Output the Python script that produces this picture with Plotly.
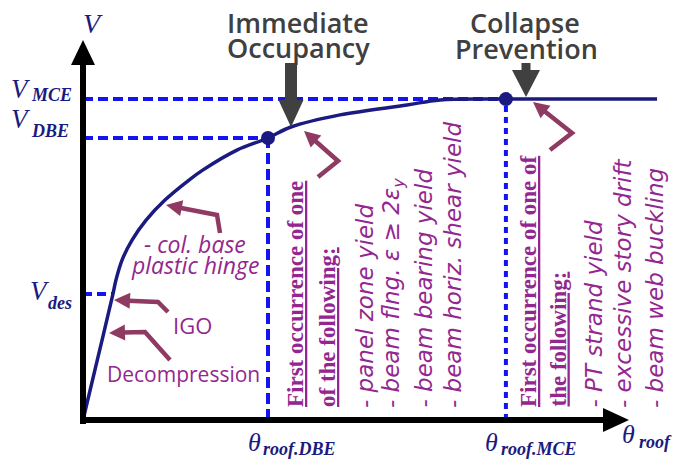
import math
import plotly.graph_objects as go

W, H = 676, 461

# ---------------- data (model units: theta_roof, V) ----------------
theta_curve = [0.0, 0.081, 0.162, 0.178, 0.211, 0.265, 0.341, 0.443, 0.573, 0.649,
               0.832, 1.0, 1.124, 1.389, 1.751, 1.930, 2.286, 3.103]
V_curve = [0.0, 0.223, 0.447, 0.496, 0.567, 0.638, 0.709, 0.780, 0.851, 0.887,
           0.957, 1.0, 1.039, 1.082, 1.117, 1.135, 1.138, 1.138]
theta_DBE, V_DBE = 1.0, 1.0
theta_MCE, V_MCE = 2.286, 1.138
theta_des, V_des = 0.162, 0.447

io_title = ["Immediate", "Occupancy"]
cp_title = ["Collapse", "Prevention"]
dbe_header = ["<u>First occurrence of one</u>", "<u>of the following:</u>"]
dbe_items = ["- panel zone yield", "- beam flng. ε ≥ 2ε<sub>y</sub>",
             "- beam bearing yield", "- beam horiz. shear yield"]
mce_header = ["<u>First occurrence of one of</u>", "<u>the following:</u>"]
mce_items = ["- PT strand yield", "- excessive story drift", "- beam web buckling"]
point_labels = ["- col. base", "plastic hinge", "IGO", "Decompression"]

# ---------------- pixel <-> model helpers ----------------
OX, OY, SX, SY = 83, 420, 185, 282
def mx(px):
    return (px - OX) / SX
def my(py):
    return (OY - py) / SY

NAVY = "#1a1a80"
BLUE = "#1414f0"
MAROON = "#8f3a62"
PURPLE = "#93278f"
GRAY = "#404040"
SERIF = "Liberation Serif"
SANS = "Open Sans"
LIST = "DejaVu Sans"

fig = go.Figure()

def dashed(xs, ys, dash):
    fig.add_trace(go.Scatter(x=xs, y=ys, mode="lines",
                             line=dict(color=BLUE, width=4, dash=dash),
                             hoverinfo="skip", showlegend=False))

dashed([0, theta_MCE], [V_MCE, V_MCE], "10px,5px")
dashed([0, theta_DBE], [V_DBE, V_DBE], "10px,5px")
dashed([0, theta_des], [V_des, V_des], "9px,5px")
dashed([theta_DBE, theta_DBE], [0, V_DBE], "11px,5px")
dashed([theta_MCE, theta_MCE], [0, V_MCE], "6px,5px")

fig.add_trace(go.Scatter(x=theta_curve, y=V_curve, mode="lines",
                         line=dict(color=NAVY, width=3.5, shape="spline", smoothing=1.0),
                         hoverinfo="skip", showlegend=False))
fig.add_trace(go.Scatter(x=[theta_DBE, theta_MCE], y=[V_DBE, V_MCE], mode="markers",
                         marker=dict(color=NAVY, size=14),
                         hoverinfo="skip", showlegend=False))

shapes = []
def poly(pts, fill):
    d = "M " + " L ".join(f"{mx(px):.5f},{my(py):.5f}" for px, py in pts) + " Z"
    shapes.append(dict(type="path", path=d, xref="x", yref="y", fillcolor=fill,
                       line=dict(color=fill, width=0), layer="above"))
def pline(pts, color, lw):
    d = "M " + " L ".join(f"{mx(px):.5f},{my(py):.5f}" for px, py in pts)
    shapes.append(dict(type="path", path=d, xref="x", yref="y",
                       line=dict(color=color, width=lw), layer="above"))

# axes with arrowheads
pline([(83, 424), (83, 60)], "black", 6)
poly([(83, 40), (71, 65), (95, 65)], "black")
pline([(80, 420), (606, 420)], "black", 6)
poly([(629, 420), (603, 408), (603, 432)], "black")

# gray block arrows
def block_arrow(cx, top, tip, sw, hw, hl):
    hb = tip - hl
    poly([(cx - sw / 2, top), (cx + sw / 2, top), (cx + sw / 2, hb), (cx + hw / 2, hb),
          (cx, tip), (cx - hw / 2, hb), (cx - sw / 2, hb)], GRAY)
block_arrow(291, 63, 127, 12, 25, 27)
block_arrow(526, 63, 97, 9, 28, 27)

# maroon bent arrows
def bent_arrow(pts, hl=16, hw=16, lw=4.5):
    (tx, ty), (nx, ny) = pts[0], pts[1]
    L = math.hypot(tx - nx, ty - ny)
    ux, uy = (tx - nx) / L, (ty - ny) / L
    bx, by = tx - ux * hl, ty - uy * hl
    pline([(bx + ux * 2, by + uy * 2)] + pts[1:], MAROON, lw)
    px_, py_ = -uy, ux
    poly([(tx, ty), (bx + px_ * hw / 2, by + py_ * hw / 2),
          (bx - px_ * hw / 2, by - py_ * hw / 2)], MAROON)

bent_arrow([(304, 131), (338, 161), (318, 177)])
bent_arrow([(533, 102), (572, 133), (550, 150)])
bent_arrow([(166, 205), (217, 215), (220, 233)])
bent_arrow([(114, 300), (158, 302), (168, 312)])
bent_arrow([(109, 333), (145, 332), (170, 360)])

anns = []
def ann(text, px, py, size, color, family, xa="center", ya="middle", angle=0, weight=None):
    f = dict(size=size, color=color, family=family)
    if weight:
        f["weight"] = weight
    anns.append(dict(text=text, x=mx(px), y=my(py), xref="x", yref="y", showarrow=False,
                     xanchor=xa, yanchor=ya, textangle=angle, font=f, borderpad=0))

# titles
ann(io_title[0], 298, 22, 27, GRAY, SANS, weight=600)
ann(io_title[1], 298, 47, 27, GRAY, SANS, weight=600)
ann(cp_title[0], 525, 22, 27, GRAY, SANS, weight=600)
ann(cp_title[1], 526, 48, 27, GRAY, SANS, weight=600)

# axis symbols
ann("<i>V</i>", 93, 23, 28, NAVY, SERIF)
ann("<i>V</i>", 21, 89, 27, NAVY, SERIF)
ann("<b><i>MCE</i></b>", 30, 95, 18, NAVY, SERIF, xa="left")
ann("<i>V</i>", 21, 119, 27, NAVY, SERIF)
ann("<b><i>DBE</i></b>", 30, 131, 18, NAVY, SERIF, xa="left")
ann("<i>V</i>", 40, 291, 27, NAVY, SERIF)
ann("<b><i>des</i></b>", 47, 303, 18, NAVY, SERIF, xa="left")
ann("<i>θ</i>", OX + theta_DBE * SX - 14, 442, 26, NAVY, SERIF)
ann("<b><i>roof.DBE</i></b>", OX + theta_DBE * SX - 6, 449, 18, NAVY, SERIF, xa="left")
ann("<i>θ</i>", OX + theta_MCE * SX - 14, 442, 26, NAVY, SERIF)
ann("<b><i>roof.MCE</i></b>", OX + theta_MCE * SX - 6, 449, 18, NAVY, SERIF, xa="left")
ann("<i>θ</i>", 628, 434, 26, NAVY, SERIF)
ann("<b><i>roof</i></b>", 638, 442, 18, NAVY, SERIF, xa="left")

# curve point labels
ann("<i>" + point_labels[0] + "</i>", 195, 244, 23, PURPLE, SANS)
ann("<i>" + point_labels[1] + "</i>", 195, 265, 23, PURPLE, SANS)
ann(point_labels[2], 192, 325, 22, PURPLE, SANS)
ann(point_labels[3], 183, 374, 21, PURPLE, SANS)

# rotated lists
for t, cx in zip(dbe_header, [295, 327]):
    ann("<b>" + t + "</b>", cx, 408, 23, PURPLE, SERIF, ya="bottom", angle=-90)
for t, cx in zip(dbe_items, [365, 393, 423, 453]):
    ann("<i>" + t + "</i>", cx, 409, 23, PURPLE, LIST, ya="bottom", angle=-90)
for t, cx in zip(mce_header, [528, 558]):
    ann("<b>" + t + "</b>", cx, 408, 23, PURPLE, SERIF, ya="bottom", angle=-90)
for t, cx in zip(mce_items, [593, 623, 655]):
    ann("<i>" + t + "</i>", cx, 409, 23, PURPLE, LIST, ya="bottom", angle=-90)

fig.update_layout(
    width=W, height=H, margin=dict(l=0, r=0, t=0, b=0),
    paper_bgcolor="white", plot_bgcolor="white",
    xaxis=dict(range=[mx(0), mx(W)], visible=False, fixedrange=True),
    yaxis=dict(range=[my(H), my(0)], visible=False, fixedrange=True),
    shapes=shapes, annotations=anns, showlegend=False,
)
fig.write_html("out.html", config={"displayModeBar": False},
               post_script="document.body.style.margin='0px';document.body.style.overflow='hidden';")
